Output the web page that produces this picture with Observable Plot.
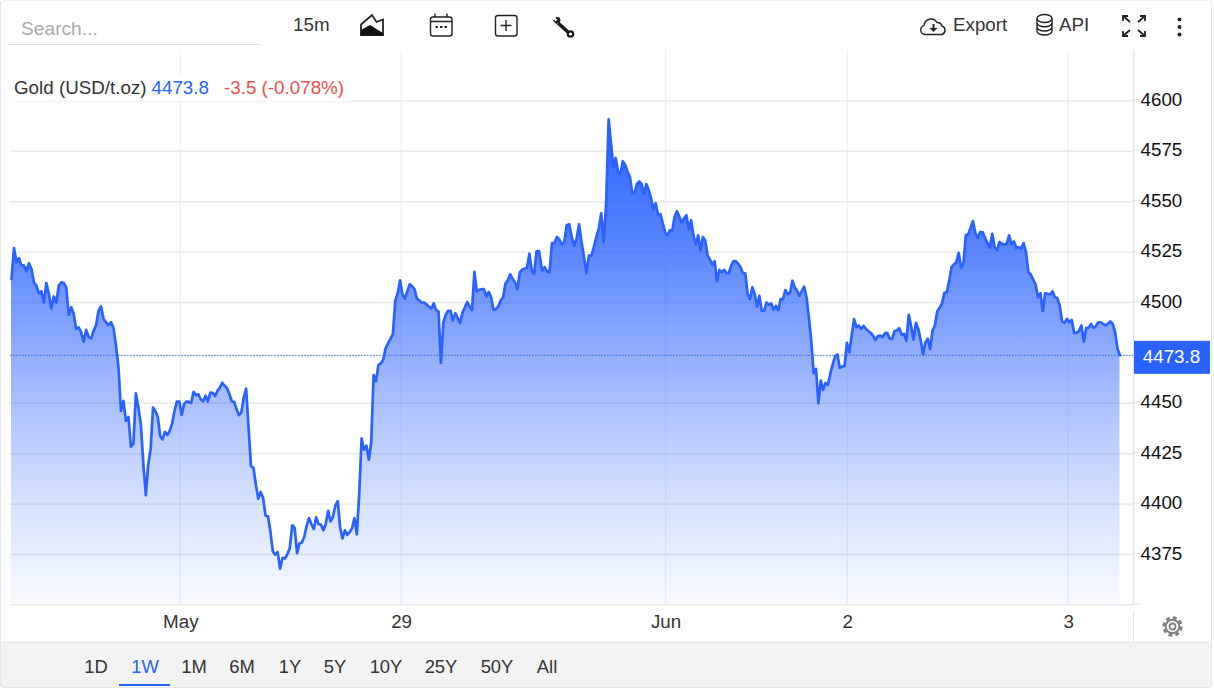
<!DOCTYPE html>
<html>
<head>
<meta charset="utf-8">
<script src="https://cdn.jsdelivr.net/npm/d3@7"></script>
<script src="https://cdn.jsdelivr.net/npm/@observablehq/plot@0.6"></script>
<style>
  html,body{margin:0;padding:0;background:#fff;width:1214px;height:688px;overflow:hidden;font-family:"Liberation Sans",Arial,sans-serif;}
  #chart{position:absolute;left:0;top:0;}
  .abs{position:absolute;white-space:nowrap;line-height:1;}
  .t{font-size:18.8px;color:#333;}
  .tab{font-size:18.4px;color:#333;transform:translateX(-50%);top:658px;}
  #shell{position:absolute;left:0;top:0;width:1210px;height:686px;border:1px solid #e6e6e6;border-top:1px solid #f4f4f4;border-radius:4px;pointer-events:none;}
</style>
</head>
<body>
<div id="chart"></div>

<div class="abs" style="left:0;top:642px;width:1212px;height:45px;background:#f3f3f3;border-top:1px solid #e6e6e6;box-sizing:border-box;"></div>
<div class="abs" style="left:1133px;top:611px;width:1px;height:31px;background:#e6e6e6;"></div>
<div id="tabs"></div>
<div class="abs" style="left:119px;top:684px;width:51px;height:2px;background:#2962ff;"></div>

<div class="abs" style="left:21px;top:19px;font-size:19.2px;color:#aaa;">Search...</div>
<div class="abs" style="left:9px;top:44px;width:250px;height:1px;background:#ddd;"></div>
<div class="abs t" style="left:293px;top:16px;">15m</div>
<div class="abs t" style="left:953px;top:16px;">Export</div>
<div class="abs t" style="left:1059px;top:16px;">API</div>

<div class="abs" style="left:10px;top:77px;width:342px;height:24px;background:#fff;"></div>
<div class="abs t" style="left:14px;top:79px;">Gold (USD/t.oz)</div>
<div class="abs t" style="left:151.500px;top:79px;color:#2962ff;">4473.8</div>
<div class="abs t" style="left:224px;top:79px;color:#f24c4c;">-3.5 (-0.078%)</div>

<svg class="abs" style="left:0;top:0;" width="1214" height="50" fill="none" stroke="#222">
  <path d="M361 24.500 L372 15 L376.500 22 L383 19.500 L383 35 L361 35 Z" stroke-width="1.800"/>
  <path d="M361 30 L370 25 L383 33 L383 35.500 L360.500 35.500 Z" fill="#111" stroke="none"/>
  <rect x="430.500" y="17" width="21.500" height="19" rx="2.500" stroke-width="1.400"/>
  <path d="M431 21.500H452M435 13.500V17M447 13.500V17" stroke-width="1.400"/>
  <path d="M435.500 27H438M440 27H442.500M444.500 27H447" stroke-width="2"/>
  <rect x="495.500" y="15.500" width="21.500" height="20.500" rx="2.500" stroke-width="1.400"/>
  <path d="M506 20V31M500.500 25.500H511.500" stroke-width="1.400"/>
  <path d="M558 23L569 33" stroke-width="3.600" stroke="#1a1a1a"/>
  <path d="M553.500 20.500L556 23.500L560 21.500L559.500 18L556 17.500L558 20.500L555.500 21.500Z" fill="#1a1a1a" stroke="#1a1a1a" stroke-width="1"/>
  <circle cx="570.500" cy="34" r="2.700" stroke-width="2.200" stroke="#1a1a1a" fill="#fff"/>
  <path d="M925 34.500a4.500 4.500 0 0 1-1-8.800a7 7 0 0 1 13-3.200a5 5 0 0 1 5 3.500a4.500 4.500 0 0 1 0 8.500Z" stroke-width="1.400"/>
  <path d="M933.500 24V29" stroke-width="2"/>
  <path d="M929.500 28H937.500L933.500 32Z" fill="#222" stroke="none"/>
  <ellipse cx="1044.500" cy="18.500" rx="7.500" ry="4" stroke-width="1.400"/>
  <path d="M1037 18.500V31c0 2.200 3.400 4 7.500 4s7.500-1.800 7.500-4V18.500M1037 22.800c0 2.200 3.400 4 7.500 4s7.500-1.800 7.500-4M1037 27c0 2.200 3.400 4 7.500 4s7.500-1.800 7.500-4" stroke-width="1.400"/>
  <path d="M1123 16L1130 22M1145 16L1138 22M1123 36L1130 30M1145 36L1138 30" stroke-width="1.800"/>
  <path d="M1123 21V16H1128M1145 21V16H1140M1123 31V36H1128M1145 31V36H1140" stroke-width="1.800"/>
  <circle cx="1179.500" cy="19.500" r="2" fill="#222" stroke="none"/>
  <circle cx="1179.500" cy="27" r="2" fill="#222" stroke="none"/>
  <circle cx="1179.500" cy="34.500" r="2" fill="#222" stroke="none"/>
</svg>
<svg class="abs" style="left:1160px;top:614px;" width="24" height="24" fill="none" stroke="#808080">
  <circle cx="12.500" cy="12.500" r="6.800" stroke-width="2"/>
  <circle cx="12.500" cy="12.500" r="3" stroke-width="1.800"/>
  <circle cx="12.500" cy="12.500" r="8.800" stroke-width="2.800" stroke-dasharray="3.900 3.010"/>
</svg>
<div id="shell"></div>

<script>
// Gold (USD/t.oz), 15-minute closes in runs between sharp landmarks.
const runBars = [
  [0.4, 58.8], [58.8, 102.4], [102.4, 125.6], [125.6, 152.6], [152.6, 187.1],
  [187.1, 229.7], [231.1, 260], [260, 348.1], [348.1, 418.4], [418.4, 482.3]
];
const run1 = [4511.7,4527,4520,4522,4518.4,4518.4,4515.5,4519.5,4516.7,4510,4508.4,4504.6,4505.6,4500,4509.6,4504.3,4497,4503,4500,4508.4,4510,4509.6,4507.6,4493.8,4497.6,4494.3,4486.9,4487.7,4485.2,4480.6,4486.4,4483,4482.2,4486,4488.8,4496,4498,4491.8,4490.2,4488.8,4490.2,4487.4,4478.6,4467.8,4446.2,4451.2,4441.3,4443.2,4428.5,4430,4454.9,4447.9,4439.6,4419.7,4404.4];
const run2 = [4404.4,4419.7,4427.2,4447.9,4446.2,4443.2,4433.8,4432.1,4435.8,4434.3,4436.3,4439.9,4446.2,4450.9,4450.9,4444.2,4449.5,4450.9,4450.7,4450.2,4455.7,4454,4454.5,4452,4451,4453.7,4450.9,4455.3,4455.2,4453.7,4456.2,4457.8,4460.2,4458.7,4457.5,4454.5,4450.9,4450.7,4447,4444.2,4445.4,4452.9,4457.3];
const run3 = [4457.3,4438,4418.9,4418,4409.7,4402.6,4406,4403,4394.3,4394,4386.5,4376.6,4374.9,4376.2,4368,4373.3,4373,4375.2,4378.2,4389.5,4388.2,4375.7,4380.4];
const run4 = [4380.5,4381,4383.8,4389.3,4393,4390,4387.6,4393.4,4390,4389.8,4387,4390,4396.7,4391.4,4393.7,4399.2,4401.5,4388.4,4383,4387,4384.8,4386,4388,4393,4385,4405,4432.6];
const run5 = [4432.6,4427,4429,4422,4430.6,4464,4461,4469,4469.8,4471.6,4477.4,4479.7,4482,4484.3,4500.8,4504.5,4511,4504,4502,4505.5,4509,4508,4506.6,4502,4501,4500,4500,4499,4497.9,4497,4499.5,4496.2,4495.5,4470];
const run6 = [4470,4490,4494,4495.9,4495.9,4491,4494.7,4492.2,4489.8,4495,4497.5,4500.2,4497.9,4496.2,4515.2,4505.5,4506.3,4506.6,4506.6,4503.1,4505.3,4502.5,4496.4,4496.7,4498,4501,4502.5,4509.4,4511,4514,4511.6,4510,4506.6,4514.9,4516.3,4516.7,4517.2,4524.2,4515.8,4514.2,4525.5,4525.5];
const run7 = [4515.8,4517.5,4515.3,4515,4529.5,4529.5,4532.5,4531.2,4528.8,4530,4538.3,4538.8,4532.5,4528.3,4531.7,4538.8,4530,4522.5,4514.5,4523.3,4523.3,4527.5,4532.5,4536.7,4544.2,4530,4549.2,4590.8];
const run8 = [4590.8,4579.2,4567.2,4571.7,4565,4563.8,4570,4568.3,4565,4562.5,4554.5,4554.2,4558.8,4560,4558.8,4553.8,4558.8,4555.8,4551.7,4546.2,4549.2,4543.3,4543.8,4539.2,4534.7,4533.3,4535.8,4535.5,4542.5,4545.3,4542.5,4539.7,4541.7,4543.3,4536.3,4540.8,4533.3,4528.8,4533.3,4525.8,4532.5,4530.8,4523.3,4521.3,4518.8,4520.5,4510.5,4516.2,4515,4516.2,4514.7,4514.5,4518.3,4520.5,4520.5,4519.2,4517.5,4514.5,4514.5,4504.2,4501.7,4507.5,4504.2,4498,4503.3,4495.8,4495.8,4500,4498.8,4499.5,4496.3,4498.3,4496.2,4501.7,4501.5,4506.2,4504.2,4504.8,4510.8,4507.5,4505.8,4503.3,4505.8,4507.8,4502.5,4492.5,4480.8];
const run9 = [4480.8,4465,4467,4450,4461.3,4456.6,4460.1,4459.1,4464.6,4469.2,4473.3,4474.2,4467.5,4468.2,4468.5,4480,4475.3,4483.6,4491.7,4487.7,4488.6,4486.9,4488.4,4486.9,4485.8,4484.9,4483.6,4481.3,4483.4,4483.6,4482.8,4484.8,4484.9,4482,4482,4485.8,4486.1,4487.3,4484.1,4484.4,4481.1,4493.9,4488.2,4481.6,4489.9,4486.9,4481.5,4474.2,4480.3,4482,4476.8,4486.1,4488.6,4495.7,4497.4,4499.7,4504.8,4505.1,4510.6,4517.5,4518.9,4520,4524.7,4517.2,4519.2,4533.3,4533.8,4537.1,4540.4];
const run10 = [4540.4,4534.4,4532.1,4534.9,4534.9,4532.1,4529.6,4527.2,4534.1,4527.2,4525.8,4530,4529.1,4528.6,4529.1,4533.3,4529.1,4530.3,4527,4527.5,4526.7,4529.5,4525,4515.1,4513.9,4511.4,4508.9,4502.6,4504.6,4495.7,4504.6,4504.3,4504,4505.6,4502.6,4502.2,4498.5,4490.6,4489.9,4491.9,4490.2,4491.4,4484.9,4484.9,4485.8,4488.6,4480.6,4487.4,4487.4,4489.4,4487.4,4488.2,4490.2,4490.1,4489.4,4488.6,4489.4,4490.6,4489.4,4485.3,4477,4473.8];
const priceRuns = [run1, run2, run3, run4, run5, run6, run7, run8, run9, run10];

const yTicks = [4350, 4375, 4400, 4425, 4450, 4500, 4525, 4550, 4575, 4600];
const xTickBars = [74, 170, 285, 364, 460];
const xTickLabels = ["May", "29", "Jun", "2", "3"];
const lastPrice = 4473.8;
const rangeTabs = [["1D",96],["1W",145],["1M",194],["6M",242],["1Y",290],["5Y",335],["10Y",386],["25Y",441],["50Y",497],["All",547]];

const data = priceRuns.flatMap((run, r) => run.map((price, i) => ({
  bar: runBars[r][0] + i * (runBars[r][1] - runBars[r][0]) / (run.length - 1),
  price
})));

const BLUE = "#2962ff";

function gradientDefs() {
  const svg = d3.create("svg:g");
  const g = svg.append("defs").append("linearGradient")
    .attr("id", "goldFill").attr("x1", 0).attr("y1", 0).attr("x2", 0).attr("y2", 1);
  [[0,1],[0.27,0.77],[0.58,0.40],[0.785,0.196],[1,0.03]].forEach(([o, a]) =>
    g.append("stop").attr("offset", o).attr("stop-color", BLUE).attr("stop-opacity", a));
  return svg.node();
}

function priceTag(index, scales, values, dims) {
  const y = scales.y(lastPrice);
  const x = dims.width - dims.marginRight + 1;
  const g = d3.create("svg:g");
  g.append("rect").attr("x", x).attr("y", y - 14).attr("width", 76).attr("height", 33).attr("fill", BLUE);
  g.append("text").attr("x", x + 37.500).attr("y", y + 2).attr("dy", "0.32em")
    .attr("text-anchor", "middle").attr("fill", "#fff").text(lastPrice.toFixed(1));
  return g.node();
}

const chart = Plot.plot({
  width: 1214,
  height: 642,
  marginLeft: 10.1,
  marginRight: 81,
  marginTop: 50,
  marginBottom: 37.6,
  style: {fontFamily: '"Liberation Sans", Arial, sans-serif', fontSize: "18.8px", background: "transparent", color: "#111"},
  x: {domain: [0, 488.2]},
  y: {domain: [4350, 4625]},
  marks: [
    gradientDefs,
    Plot.gridX(xTickBars, {stroke: "#edf1f7", strokeOpacity: 1, strokeWidth: 1.4, dx: -0.5}),
    Plot.gridY(yTicks, {stroke: "#e8e8e8", strokeOpacity: 1, strokeWidth: 1.4}),
    Plot.frame({anchor: "right", stroke: "#e6e6e6", strokeWidth: 1.4}),
    Plot.areaY(data, {x: "bar", y1: () => 4350, y2: "price", fill: "url(#goldFill)"}),
    Plot.ruleY([lastPrice], {stroke: BLUE, strokeWidth: 1, strokeDasharray: "1.5 1.500"}),
    Plot.lineY(data, {x: "bar", y: "price", stroke: BLUE, strokeWidth: 2.700, strokeLinejoin: "round"}),
    Plot.axisY({
      anchor: "right", ticks: yTicks, tickSize: 5, tickPadding: 2, label: null,
      stroke: "#e6e6e6", strokeWidth: 1.4, fill: "#111", dy: -1,
      tickFormat: d => d === 4350 ? "" : String(d)
    }),
    Plot.axisX({
      anchor: "bottom", ticks: xTickBars, tickSize: 0, tickPadding: 10, label: null, fill: "#333", dx: 0,
      tickFormat: d => xTickLabels[xTickBars.indexOf(d)]
    }),
    priceTag
  ]
});
document.getElementById("chart").append(chart);

const tabs = document.getElementById("tabs");
rangeTabs.forEach(([label, left]) => {
  const s = document.createElement("div");
  s.className = "abs tab";
  s.style.left = left + "px";
  if (label === "1W") s.style.color = BLUE;
  s.textContent = label;
  tabs.append(s);
});
</script>
</body>
</html>
